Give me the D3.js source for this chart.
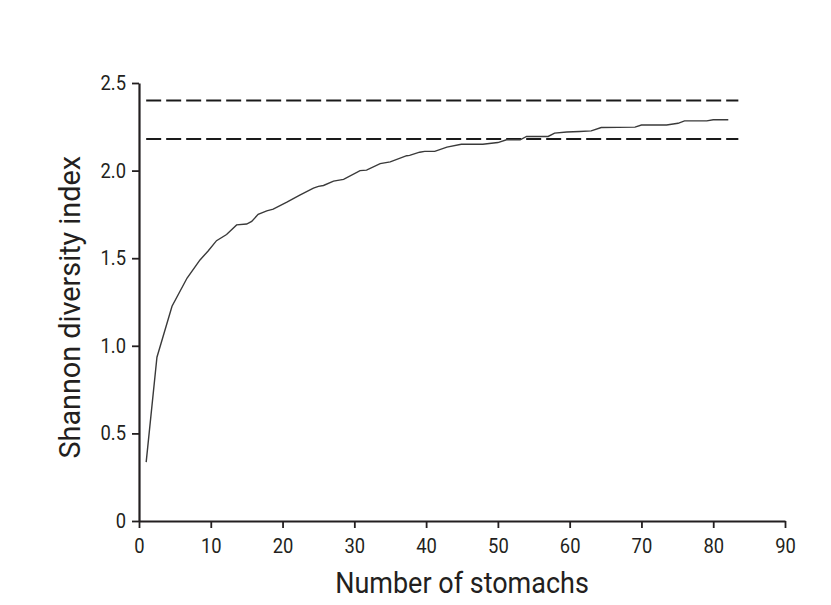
<!DOCTYPE html>
<html>
<head>
<meta charset="utf-8">
<script src="https://cdn.jsdelivr.net/npm/d3@7"></script>
<style>
body { margin: 0; background: #fff; }
text { font-family: Roboto, "Liberation Sans", sans-serif; fill: #231f20; }
</style>
</head>
<body>
<svg id="chart"></svg>
<script>
// curve: number of stomachs vs Shannon index
var stomachs = [1, 2.5, 4.6, 6.7, 8.5, 9.6, 10.8, 12.2, 13.6, 15.0, 15.7, 16.6, 17.8, 18.7, 20.6, 22.4, 24.3, 25.0, 25.7, 27.1, 28.5, 30.8, 31.7, 33.6, 35.0, 37.3, 37.7, 39.1, 39.8, 41.2, 42.9, 44.9, 47.9, 50.0, 51.2, 53.1, 54.0, 57.0, 57.9, 59.6, 61.4, 63.0, 64.4, 69.1, 70.0, 73.5, 75.1, 76.0, 79.1, 80.0, 82.1];
var shannon  = [0.336, 0.935, 1.226, 1.387, 1.49, 1.54, 1.60, 1.635, 1.69, 1.695, 1.71, 1.75, 1.77, 1.78, 1.82, 1.86, 1.90, 1.91, 1.915, 1.94, 1.95, 2.00, 2.003, 2.04, 2.05, 2.085, 2.087, 2.105, 2.11, 2.11, 2.134, 2.15, 2.15, 2.16, 2.176, 2.176, 2.195, 2.195, 2.214, 2.22, 2.223, 2.227, 2.246, 2.248, 2.26, 2.26, 2.27, 2.284, 2.284, 2.29, 2.29];
// dashed reference levels
var refLevels = [2.40, 2.18];
var refRange = [1, 83.5];

var xTicks = [0, 10, 20, 30, 40, 50, 60, 70, 80, 90];
var yTicks = [0, 0.5, 1.0, 1.5, 2.0, 2.5];

var screen = {width: 831, height: 605}
var margins = {top: 83, right: 46, bottom: 84, left: 139}
var width = screen.width - margins.left - margins.right;
var height = screen.height - margins.top - margins.bottom;
// fake a condensed face by squeezing text sideways
var tickSqueeze = 0.92;
var xTitleSqueeze = 0.9;
var yTitleSqueeze = 0.96;

var svg = d3.select("#chart")
    .attr("width", screen.width)
    .attr("height", screen.height);

var g = svg.append("g")
    .attr("transform", "translate(" + margins.left + "," + margins.top + ")");

var xScale = d3.scaleLinear().domain([0, 90]).range([0, width]);
var yScale = d3.scaleLinear().domain([0, 2.5]).range([height, 0]);

var xAxis = g.append("g")
    .attr("transform", "translate(0," + height + ")")
    .call(d3.axisBottom(xScale).tickValues(xTicks).tickSize(7).tickPadding(11).tickSizeOuter(0));

var yAxis = g.append("g")
    .call(d3.axisLeft(yScale).tickValues(yTicks).tickSize(7).tickPadding(6).tickSizeOuter(0)
        .tickFormat(function(d) { return d === 0 ? "0" : d3.format(".1f")(d) }));

[xAxis, yAxis].forEach(function(ax) {
    ax.select(".domain").attr("stroke", "#231f20").attr("stroke-width", 2.2);
    ax.selectAll(".tick line").attr("stroke", "#231f20").attr("stroke-width", 1.8);
    ax.selectAll(".tick text")
        .style("font-size", "20px")
        .attr("fill", "#231f20")
        .attr("transform", "scale(" + tickSqueeze + ",1)");
});
yAxis.selectAll(".tick text").attr("x", -13 / tickSqueeze);

// dashed lines
g.selectAll(".ref")
    .data(refLevels)
    .enter()
    .append("line")
    .attr("class", "ref")
    .attr("x1", xScale(refRange[0]))
    .attr("x2", xScale(refRange[1]))
    .attr("y1", function(d) { return yScale(d) })
    .attr("y2", function(d) { return yScale(d) })
    .attr("stroke", "#1a1a1a")
    .attr("stroke-width", 2)
    .attr("stroke-dasharray", "15,5");

var points = stomachs.map(function(s, i) { return [s, shannon[i]] });

g.append("path")
    .datum(points)
    .attr("fill", "none")
    .attr("stroke", "#3a3a3a")
    .attr("stroke-width", 1.4)
    .attr("d", d3.line()
        .x(function(d) { return xScale(d[0]) })
        .y(function(d) { return yScale(d[1]) }));

// axis titles
svg.append("text")
    .attr("transform", "translate(" + (margins.left + xScale(45)) + ",593) scale(" + xTitleSqueeze + ",1)")
    .attr("text-anchor", "middle")
    .style("font-size", "30px")
    .text("Number of stomachs");

svg.append("text")
    .attr("transform", "translate(80," + (margins.top + yScale(1.22)) + ") rotate(-90) scale(" + yTitleSqueeze + ",1)")
    .attr("text-anchor", "middle")
    .style("font-size", "30px")
    .text("Shannon diversity index");
</script>
</body>
</html>
